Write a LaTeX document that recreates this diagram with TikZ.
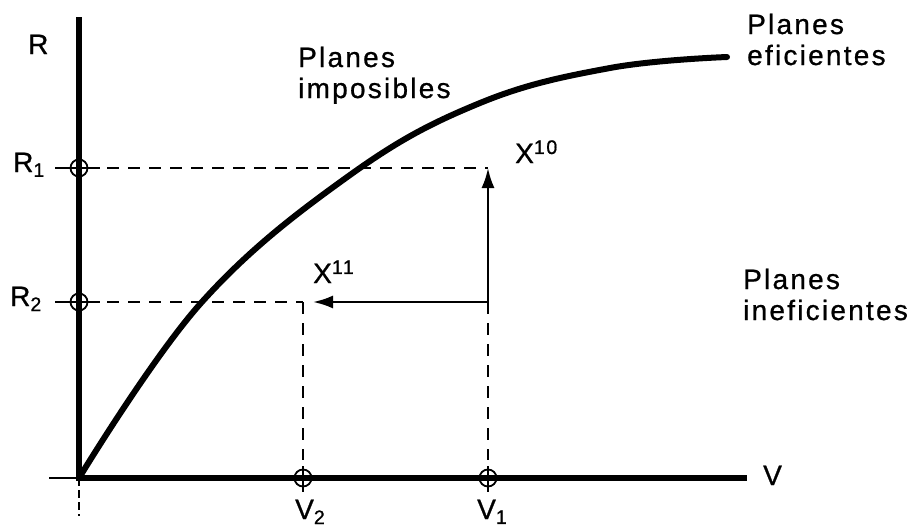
\documentclass[tikz,border=0pt]{standalone}
\usepackage{fontspec}
\setmainfont{Liberation Sans}[LetterSpace=8,FakeBold=0.8]
\usetikzlibrary{arrows.meta}
\begin{document}
\begin{tikzpicture}[x=1pt,y=-1pt,
  axis/.style={line width=6pt},
  curveline/.style={line width=6pt,line cap=round},
  thinline/.style={line width=1.8pt},
  dashline/.style={line width=2.6pt,dash pattern=on 12pt off 9pt},
  arr/.style={line width=2.4pt,-{Latex[length=20pt,width=13pt]}},
  ringmark/.style={circle,draw,line width=1.8pt,minimum size=17pt,inner sep=0pt},
  lbl/.style={font=\fontsize{28}{31}\selectfont,inner sep=0pt,anchor=base west},
  multi/.style={lbl,align=left}]
\useasboundingbox (0,0) rectangle (910,531);
% key points
\coordinate (O) at (79,478);
\coordinate (Rtop) at (79,17);
\coordinate (Vend) at (747,478);
\coordinate (Bot) at (79,516);
\coordinate (Lstub) at (49,478);
\coordinate (P10) at (488,168);
\coordinate (P11) at (303,302);
\coordinate (C) at (488,302);
\coordinate (T11) at (313,302);
% axes
\draw[axis] (Rtop) -- (O) -- (Vend);
\draw[thinline] (Lstub) -- (O);
\draw[line width=1.5pt,dash pattern=on 8pt off 4pt] (O) -- (Bot);
% markers
\node[ringmark] (mR1) at (79,168) {};
\node[ringmark] (mR2) at (79,302) {};
\node[ringmark] (mV2) at (303,478) {};
\node[ringmark] (mV1) at (488,478) {};
\coordinate (R1l) at (55,168); \coordinate (R1r) at (100,168);
\coordinate (R2l) at (55,302); \coordinate (R2r) at (100,302);
\coordinate (R1d) at (107,168); \coordinate (R2d) at (107,302);
\coordinate (V2u) at (303,466); \coordinate (V2d) at (303,492);
\coordinate (V1u) at (488,466); \coordinate (V1d) at (488,492);
\coordinate (V2e) at (303,460); \coordinate (V1e) at (488,460);
\draw[thinline] (R1l) -- (R1r);
\draw[thinline] (R2l) -- (R2r);
\draw[thinline] (V2u) -- (V2d);
\draw[thinline] (V1u) -- (V1d);
\draw[thinline] (mR1.north) -- (mR1.south);
\draw[thinline] (mR2.north) -- (mR2.south);
\draw[thinline] (mV2.west) -- (mV2.east);
\draw[thinline] (mV1.west) -- (mV1.east);
% dashed guides
\draw[dashline] (R1d) -- (P10);
\draw[dashline] (R2d) -- (P11);
\draw[dashline] (P11) -- (V2e);
\draw[dashline] (C) -- (V1e);
% arrows
\draw[arr] (C) -- (P10);
\draw[arr] (C) -- (T11);
% curve
\draw[curveline] plot[smooth,tension=0.65] coordinates {(79,478) (201,303) (350,175) (480,103) (610,68) (727,57)};
% labels
\node[lbl] (lR) at (28,54) {R};
\node[lbl] (lR1) at (13,172) {R\textsubscript{1}};
\node[lbl] (lR2) at (10,306) {R\textsubscript{2}};
\node[lbl] (lV) at (763,485) {V};
\node[lbl] (lV2) at (295,519) {V\textsubscript{2}};
\node[lbl] (lV1) at (477,519) {V\textsubscript{1}};
\node[lbl] (lX10) at (515,163) {X\textsuperscript{10}};
\node[lbl] (lX11) at (313,283) {X\textsuperscript{11}};
\node[multi] (imp) at (298,98) {Planes\\imposibles};
\node[multi] (efi) at (747,65) {Planes\\eficientes};
\node[multi] (inef) at (743,320) {Planes\\ineficientes};
\end{tikzpicture}
\end{document}
